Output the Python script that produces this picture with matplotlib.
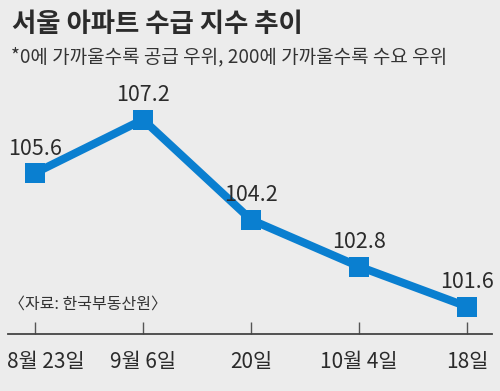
import matplotlib
matplotlib.use("Agg")
import matplotlib.pyplot as plt
from matplotlib.transforms import ScaledTranslation

plt.rcParams['font.family'] = ['Noto Sans CJK KR', 'DejaVu Sans']

categories = ["8월 23일", "9월 6일", "20일", "10월 4일", "18일"]
values = [105.6, 107.2, 104.2, 102.8, 101.6]
title = "서울 아파트 수급 지수 추이"
subtitle = "*0에 가까울수록 공급 우위, 200에 가까울수록 수요 우위"
source = "〈자료: 한국부동산원〉"

BG = "#ececec"
BLUE = "#0a7fd0"
TXT = "#2b2b2b"

fig = plt.figure(figsize=(5.0, 3.91), dpi=100, facecolor=BG)
ax = fig.add_axes([8/500, 1 - 334/391, 484/500, 334/391])
ax.set_facecolor(BG)

x = list(range(len(categories)))
ax.plot(x, values, color=BLUE, lw=5.8, marker='s', markersize=15,
        markerfacecolor=BLUE, markeredgewidth=0, solid_joinstyle='miter', zorder=3)

for xi, v in zip(x, values):
    ax.annotate(f"{v:.1f}", (xi, v), xytext=(0, 17.5), textcoords='offset points',
                ha='center', va='center', fontsize=15.5, color=TXT)

ax.set_xlim(-0.25, 4.231)
ax.set_ylim(100.78, 110.78)

for s in ['top', 'right', 'left']:
    ax.spines[s].set_visible(False)
ax.spines['bottom'].set_color('#444444')
ax.spines['bottom'].set_linewidth(1.3)
ax.set_yticks([])
ax.set_xticks(x)
ax.set_xticklabels(categories, fontsize=15, color=TXT)
ax.tick_params(axis='x', direction='in', length=9, width=1, color='#555555', pad=12)

# keep first label inside the figure, as in the reference
first = ax.get_xticklabels()[0]
first.set_horizontalalignment('left')
first.set_transform(first.get_transform() + ScaledTranslation(-28/100, 0, fig.dpi_scale_trans))

fig.text(12/500, 1 - 24/391, title, fontsize=19, fontweight='bold', color=TXT,
         ha='left', va='center')
fig.text(11/500, 1 - 57/391, subtitle, fontsize=13.7, color='#333333',
         ha='left', va='center')
fig.text(9/500, 1 - 304/391, source, fontsize=11.5, color='#333333',
         ha='left', va='center')

fig.savefig("out.png", dpi=100, facecolor=BG)
